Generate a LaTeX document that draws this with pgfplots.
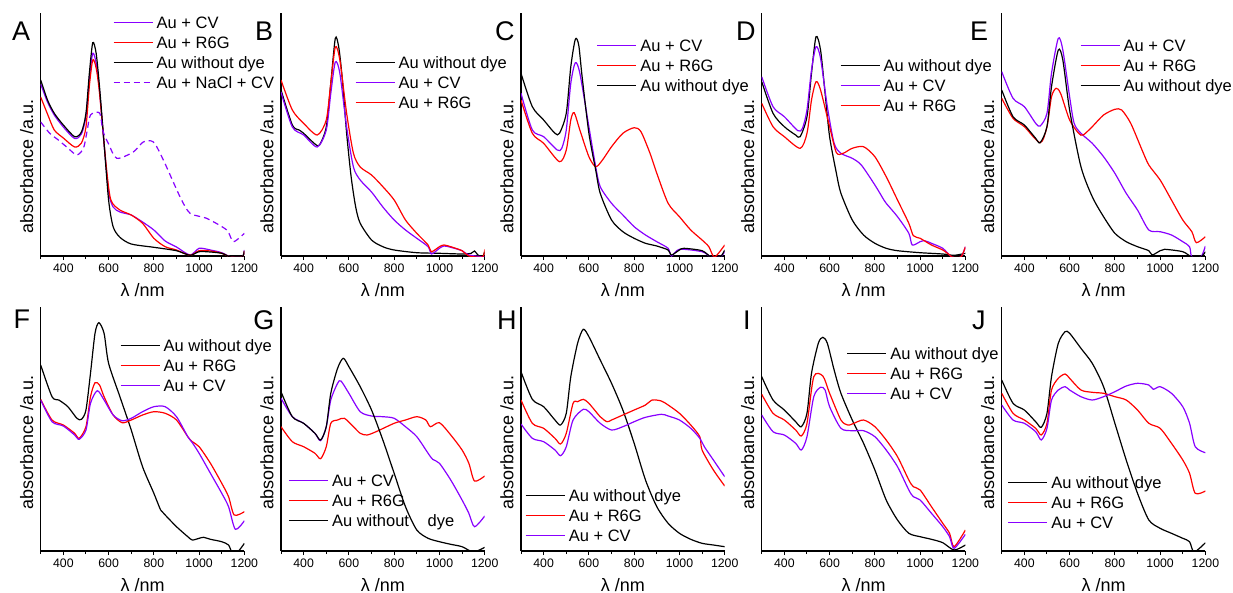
\documentclass[border=0pt]{standalone}
\usepackage{fontspec}
\setmainfont{Liberation Sans}
\usepackage{pgfplots}
\pgfplotsset{compat=1.18}
\definecolor{cvc}{RGB}{136,0,255}
\definecolor{rgc}{RGB}{255,0,0}
\pgfplotsset{
 cv/.style={color=cvc, line width=1.2bp, smooth, tension=0.45},
 rg/.style={color=rgc, line width=1.2bp, smooth, tension=0.45},
 nd/.style={color=black, line width=1.2bp, smooth, tension=0.45},
 panel/.style={
  scale only axis, width=203.7bp,
  xmin=300, xmax=1200, ymin=0,
  clip mode=individual,
  axis lines*=left,
  axis line style={line width=1.1bp, black},
  xtick={400,600,...,1200}, minor xtick={300,500,...,1100},
  ytick=\empty,
  tick align=outside, major tick length=4bp, minor tick length=3bp,
  tick style={black, line width=1bp},
  /pgf/number format/assume math mode=true,
  /pgf/number format/1000 sep={},
  xticklabel style={font=\fontsize{12.3bp}{14bp}\selectfont},
  xlabel={λ /nm},
  x label style={at={(axis description cs:0.5,0)}, anchor=base, yshift=-40bp, font=\fontsize{18bp}{20bp}\selectfont},
  ylabel={absorbance /a.u.},
  legend cell align=left,
  legend style={draw=none, fill=none, inner sep=0pt, outer sep=0pt, row sep=0pt, column sep=0pt, anchor=north west,
    font=\fontsize{16.5bp}{18bp}\selectfont, nodes={inner ysep=0pt, inner xsep=3.5bp, text height=16bp, text depth=4bp}},
  legend image code/.code={\draw[##1] (0bp,0bp) -- (39bp,0bp);},
 },
 toprow/.style={panel, height=243bp, ymax=243,
  y label style={at={(axis description cs:-0.069,0.370)}, anchor=center, font=\fontsize{18bp}{20bp}\selectfont}},
 botrow/.style={panel, height=244bp, ymax=244,
  y label style={at={(axis description cs:-0.069,0.445)}, anchor=center, font=\fontsize{18bp}{20bp}\selectfont}},
}
\newcommand{\plet}[3]{\node[font=\fontsize{27bp}{27bp}\selectfont, anchor=base west, inner sep=0pt] at (rel axis cs:#1,#2) {#3};}
\begin{document}
\begin{tikzpicture}[x=1bp,y=1bp]
\path[use as bounding box] (0,0) rectangle (1233,-593);

% ---------------- A
\begin{axis}[toprow, at={(40.7bp,-256bp)}, anchor=south west,
  legend style={at={(axis description cs:0.355,1.00206)}}]
\addplot[cv] coordinates {(300,172)(330,154)(360,141)(400,129)(450,117.5)(480,122)(500,140)(515,178)(530,202.7)(545,193)(560,165)(580,112)(600,64)(620,49)(650,44)(700,41)(750,34)(800,26)(850,15)(900,9)(960,1)(1000,7.7)(1050,6)(1100,3.3)(1140,-1)(1190,-1)(1200,6)};
\addlegendentry{Au + CV}
\addplot[rg] coordinates {(300,159)(330,142)(360,126)(400,118)(450,109)(480,113)(500,129)(515,170)(530,196)(545,188)(560,162.7)(590,89)(610,56)(650,46)(700,41)(750,32.7)(800,17.7)(850,9.3)(900,6)(960,0.7)(1000,5.3)(1050,5)(1100,2.7)(1140,-1)(1190,-1)(1200,5)};
\addlegendentry{Au + R6G}
\addplot[nd] coordinates {(300,176)(330,156)(360,142.7)(400,131)(450,119.3)(480,124)(500,142.7)(515,182.7)(530,213.3)(545,202.7)(560,169)(580,112.7)(600,56)(620,29.3)(650,18.7)(700,12)(800,8.7)(900,5.3)(960,0.7)(1000,4.3)(1050,4)(1100,2.7)(1140,-1)(1190,-1)(1200,5.3)};
\addlegendentry{Au without dye}
\addplot[cv, dash pattern=on 6bp off 4bp] coordinates {(300,134)(340,122.7)(378,116)(420,108)(459,101)(489,107.7)(505,125)(520,141)(560,143)(575,125)(600,112)(636,97.7)(709,104)(753,114)(798,114)(842,96)(916,59)(960,42.7)(1033,37.7)(1122,26)(1151,14.3)(1200,22.7)};
\addlegendentry{Au + NaCl + CV}
\plet{-0.141}{0.886}{A}
\end{axis}

% ---------------- B
\begin{axis}[toprow, at={(281bp,-256bp)}, anchor=south west,
  legend style={at={(axis description cs:0.363,0.83745)}}]
\addplot[nd] coordinates {(300,166)(350,131)(380,126)(400,122.7)(450,112)(470,111)(500,129)(520,172.7)(540,217.7)(555,209)(570,179)(590,122.7)(610,79)(630,49)(650,32.7)(700,16)(750,9.3)(800,6)(900,3.3)(1000,2.7)(1100,2)(1140,2.7)(1155,5)(1170,1)(1190,-1)(1200,4.3)};
\addlegendentry{Au without dye}
\addplot[cv] coordinates {(300,164)(350,129)(400,121)(460,109)(500,126)(520,162.7)(540,194)(560,182.7)(590,129)(620,89)(650,76)(700,64)(750,49)(800,36)(850,26)(900,17.7)(950,9.3)(965,2)(1000,7.7)(1020,10)(1050,8.7)(1100,5.3)(1130,1)(1200,-1)};
\addlegendentry{Au + CV}
\addplot[rg] coordinates {(300,176)(350,146)(400,132.7)(460,121)(500,136)(520,172.7)(540,209)(560,196)(590,142.7)(620,102.7)(650,89)(700,81)(750,69.3)(800,56)(850,36)(900,22.7)(950,11)(965,4.3)(1000,9.3)(1020,11)(1050,9.3)(1100,5.3)(1130,0)(1190,-1)(1200,6.7)};
\addlegendentry{Au + R6G}
\plet{-0.128}{0.886}{B}
\end{axis}

% ---------------- C
\begin{axis}[toprow, at={(521bp,-256bp)}, anchor=south west,
  legend style={at={(axis description cs:0.372,0.90741)}}]
\addplot[cv] coordinates {(300,162.7)(350,126)(400,119.3)(460,106)(480,107.7)(500,126)(520,172.7)(540,193.3)(560,182.7)(600,129.3)(630,89.3)(650,69.3)(700,52.7)(750,41)(800,29.3)(850,21)(900,14.3)(950,7.7)(965,0)(1000,6.7)(1100,4.3)(1140,-1)(1180,-1)(1200,4.3)};
\addlegendentry{Au + CV}
\addplot[rg] coordinates {(300,156)(350,122.7)(400,112.7)(470,94.3)(500,106)(520,136)(535,143.3)(560,126)(600,99.3)(630,89.3)(660,96)(700,109.3)(750,122.7)(800,128.3)(830,124.3)(870,102.7)(900,82.7)(950,52.7)(1000,39.3)(1050,26)(1100,16)(1130,9.3)(1155,-1)(1200,11)};
\addlegendentry{Au + R6G}
\addplot[nd] coordinates {(300,182.7)(350,149.3)(400,136)(450,122.7)(470,122.7)(500,142.7)(520,189.3)(540,216.7)(555,211)(570,179.3)(600,122.7)(630,86)(650,62.7)(700,36)(750,24.3)(800,17.7)(850,12.7)(900,10)(950,6)(965,1)(1000,6)(1020,7.7)(1100,5.3)(1140,-1)(1180,-1)(1200,6)};
\addlegendentry{Au without dye}
\plet{-0.128}{0.886}{C}
\end{axis}

% ---------------- D
\begin{axis}[toprow, at={(761.7bp,-256bp)}, anchor=south west,
  legend style={at={(axis description cs:0.384,0.82510)}}]
\addplot[nd] coordinates {(300,174.3)(350,142.7)(400,129.3)(450,121)(470,119.3)(500,139.3)(520,182.7)(540,219.3)(560,206)(580,162.7)(600,119.3)(630,82.7)(650,62.7)(700,36)(750,21)(800,12.7)(850,7.7)(900,5.3)(1000,3.3)(1100,2)(1150,0.7)(1200,2.7)};
\addlegendentry{Au without dye}
\addplot[cv] coordinates {(300,179.3)(350,149.3)(400,139.3)(460,125.3)(480,127.7)(500,146)(520,186)(540,209.3)(560,197.7)(590,149.3)(620,112.7)(650,102.7)(700,97.7)(740,91)(800,71)(840,56)(850,52.7)(900,39.3)(950,22.7)(965,11)(1000,14.3)(1020,15.3)(1050,12.7)(1100,7.7)(1140,-1)(1180,-1)(1200,9.3)};
\addlegendentry{Au + CV}
\addplot[rg] coordinates {(300,152.7)(350,129.3)(400,119.3)(470,107.7)(500,122.7)(520,156)(540,174.3)(560,166)(600,129.3)(630,103.3)(660,102.7)(700,107.7)(750,109.3)(800,99.3)(850,79.3)(900,56)(950,32.7)(970,20.3)(1000,17.7)(1050,11)(1100,6)(1130,1)(1140,-1)(1180,-1)(1200,9.3)};
\addlegendentry{Au + R6G}
\plet{-0.126}{0.886}{D}
\end{axis}

% ---------------- E
\begin{axis}[toprow, at={(1001.7bp,-256bp)}, anchor=south west,
  legend style={at={(axis description cs:0.384,0.90741)}}]
\addplot[cv] coordinates {(300,184.3)(350,157.7)(400,149.3)(450,132.7)(470,130)(500,142.7)(520,182.7)(550,217.7)(570,206)(600,159.3)(620,132.7)(650,122.7)(700,112.7)(750,99.3)(800,82.7)(850,62.7)(900,46)(950,26)(1000,24.3)(1050,21)(1100,14.3)(1130,9.3)(1140,-1)(1180,-1)(1200,10)};
\addlegendentry{Au + CV}
\addplot[rg] coordinates {(300,157.7)(350,137.7)(400,129.3)(470,113.3)(500,129.3)(520,159.3)(540,167.7)(560,162.7)(600,136)(640,122.7)(660,121)(700,129.3)(750,141)(800,146.7)(830,146)(870,132.7)(920,106)(950,91)(1000,76)(1050,56)(1100,36)(1140,24.3)(1160,13.3)(1200,19.3)};
\addlegendentry{Au + R6G}
\addplot[nd] coordinates {(300,166)(350,139.3)(400,131)(450,117.7)(470,113.3)(500,129.3)(520,169.3)(550,206)(570,196)(600,146)(650,89.3)(700,59.3)(750,39.3)(800,22.7)(850,14.3)(900,9.3)(950,5.3)(965,1)(1000,5.3)(1020,6.7)(1100,4.3)(1140,-1)(1180,-1)(1200,4.3)};
\addlegendentry{Au without dye}
\plet{-0.156}{0.886}{E}
\end{axis}

% ---------------- F
\begin{axis}[botrow, at={(40.7bp,-551bp)}, anchor=south west,
  legend style={at={(axis description cs:0.389,0.88320)}}]
\addplot[nd] coordinates {(300,186)(350,154.3)(380,151)(420,144.3)(460,132.7)(480,131.7)(500,141)(520,177.7)(540,217.7)(557,228.3)(580,217.7)(600,187.7)(650,154.3)(700,121)(750,84.3)(800,57.7)(830,41)(850,36)(900,24.3)(950,14.3)(970,11)(1000,12.7)(1020,13.7)(1050,11.7)(1100,9.3)(1130,6)(1145,-1)(1170,-1)(1200,7.7)};
\addlegendentry{Au without dye}
\addplot[rg] coordinates {(300,151.7)(350,131)(400,126)(450,117.7)(470,112.7)(500,124.3)(520,154.3)(540,168.3)(560,166)(580,154.3)(620,136)(660,128.3)(700,131)(750,136)(800,139.3)(850,137.7)(900,131)(950,114.3)(970,109.3)(1000,104.3)(1050,87.7)(1100,67.7)(1130,54.3)(1155,36)(1200,39.3)};
\addlegendentry{Au + R6G}
\addplot[cv] coordinates {(300,151)(350,129.3)(400,125)(450,116)(470,111.7)(500,121)(520,147.7)(550,160.3)(580,151)(620,136)(660,130.3)(700,132.7)(750,139.3)(800,144.3)(850,144.3)(900,134.3)(950,114.3)(970,108.3)(1000,97.7)(1050,77.7)(1100,57.7)(1130,44.3)(1160,21.7)(1200,30.3)};
\addlegendentry{Au + CV}
\plet{-0.134}{0.913}{F}
\end{axis}

% ---------------- G
\begin{axis}[botrow, at={(281bp,-551bp)}, anchor=south west,
  legend style={at={(axis description cs:0.036,0.32992)}}]
\addplot[cv] coordinates {(300,152.7)(350,134.3)(400,127.7)(450,117.7)(475,110.3)(500,124.3)(520,151)(550,167.7)(565,170)(600,157.7)(650,139.3)(700,135)(750,134.3)(800,132.7)(850,124.3)(900,114.3)(950,97.7)(970,91.7)(1000,87.7)(1050,71)(1100,51)(1130,37.7)(1155,24.3)(1200,35)};
\addlegendentry{Au + CV}
\addplot[rg] coordinates {(300,124.3)(350,109.3)(400,104.3)(450,97.7)(475,92.3)(500,104.3)(520,127.7)(550,131)(580,132.7)(620,124.3)(650,117.7)(680,116)(720,119.3)(800,127.7)(850,131)(900,134.3)(940,131)(960,124.3)(1000,128.3)(1050,116)(1100,101)(1130,87.7)(1155,70)(1200,75)};
\addlegendentry{Au + R6G}
\addplot[nd] coordinates {(300,159.3)(350,134.3)(400,127.7)(450,117.7)(475,111)(500,124.3)(520,157.7)(550,182.7)(575,192.7)(600,184.3)(650,164.3)(700,141)(750,111)(800,77.7)(850,44.3)(900,21)(950,12.7)(1000,9.3)(1050,6.7)(1100,4.3)(1150,-1)(1200,3.7)};
\addlegendentry{Au without\hspace{14bp} dye}
\plet{-0.137}{0.906}{G}
\end{axis}

% ---------------- H
\begin{axis}[botrow, at={(521bp,-551bp)}, anchor=south west,
  legend style={at={(axis description cs:0.02,0.26844)}}]
\addplot[nd] coordinates {(300,179.3)(350,151.7)(400,144.3)(450,131)(475,126)(500,137.7)(520,174.3)(550,207.7)(575,221.7)(600,214.3)(650,191)(700,167.7)(750,141)(800,107.7)(850,71)(900,44.3)(950,27.7)(1000,17.7)(1050,11.7)(1100,7.7)(1150,6)(1200,4.3)};
\addlegendentry{Au without\hspace{4bp} dye}
\addplot[rg] coordinates {(300,151)(350,127.7)(400,122.7)(450,112.7)(475,107)(500,117.7)(530,147.7)(550,149.3)(575,151.7)(600,147.7)(650,134.3)(680,129.3)(700,131)(750,136)(800,141)(850,146)(880,151)(920,150)(950,146)(1000,137.7)(1050,126)(1090,114.3)(1100,101)(1150,81)(1200,65)};
\addlegendentry{Au + R6G}
\addplot[cv] coordinates {(300,127)(350,112.7)(400,109.3)(450,101)(475,95.3)(500,104.3)(530,131)(575,141.7)(600,139.3)(650,127.7)(700,121)(750,124.3)(800,129.3)(850,133.7)(920,136.7)(950,135)(1000,131)(1050,122.7)(1090,112.7)(1110,104.3)(1150,91)(1200,74.3)};
\addlegendentry{Au + CV}
\plet{-0.118}{0.906}{H}
\end{axis}

% ---------------- I
\begin{axis}[botrow, at={(761.7bp,-551bp)}, anchor=south west,
  legend style={at={(axis description cs:0.417,0.85041)}}]
\addplot[nd] coordinates {(300,174.3)(350,151)(400,141)(450,129.3)(475,124.3)(500,137.7)(520,177.7)(550,207.7)(570,213.7)(590,207.7)(620,181)(650,157.7)(700,131)(750,107.7)(800,81)(850,51)(900,31)(950,17.7)(1000,14.3)(1050,11.7)(1100,8.3)(1150,1)(1200,6)};
\addlegendentry{Au without dye}
\addplot[rg] coordinates {(300,156.7)(350,137.7)(400,131)(450,121)(475,115)(500,127.7)(530,174.3)(570,175)(600,157.7)(650,131)(680,126)(700,127)(750,131)(800,124.3)(850,111)(900,94.3)(950,71)(970,64.3)(1000,61)(1050,44.3)(1100,27.7)(1130,17.7)(1150,4.3)(1200,21)};
\addlegendentry{Au + R6G}
\addplot[cv] coordinates {(300,136)(350,119.3)(400,116)(450,107.7)(475,101)(500,114.3)(530,154.3)(560,163.7)(580,161)(600,144.3)(650,122.7)(700,120.3)(750,120.3)(800,114.3)(850,101)(900,84.3)(950,61)(970,54.3)(1000,51)(1050,37.7)(1100,24.3)(1130,14.3)(1150,2.7)(1200,16.7)};
\addlegendentry{Au + CV}
\plet{-0.092}{0.906}{I}
\end{axis}

% ---------------- J
\begin{axis}[botrow, at={(1001.7bp,-551bp)}, anchor=south west,
  legend style={at={(axis description cs:0.029,0.32172)}}]
\addplot[nd] coordinates {(300,171)(350,147.7)(400,141)(450,129.3)(475,123.7)(500,137.7)(520,174.3)(550,207.7)(580,219.3)(600,217.7)(650,202.7)(700,187.7)(750,164.3)(800,127.7)(850,91)(900,57.7)(950,31)(1000,22.7)(1050,17.7)(1100,12.7)(1130,9.3)(1150,-1)(1200,8.3)};
\addlegendentry{Au without\hspace{2bp} dye}
\addplot[rg] coordinates {(300,157.7)(350,137.7)(400,131)(450,122.7)(475,116)(500,127.7)(520,161)(550,172.7)(580,177)(600,172.7)(650,161)(700,158.7)(750,157.7)(800,154.3)(850,151)(900,141)(950,127.7)(1000,122.7)(1050,107.7)(1100,91)(1130,77.7)(1155,57.7)(1200,60)};
\addlegendentry{Au + R6G}
\addplot[cv] coordinates {(300,146)(350,131)(400,127.7)(450,119.3)(475,111)(500,122.7)(520,151)(550,161)(580,164.3)(600,161)(650,154.3)(700,151)(750,154.3)(800,159.3)(850,165)(900,167.7)(950,166)(970,161.7)(1000,164.3)(1050,157.7)(1100,144.3)(1130,127.7)(1155,104.3)(1200,98.3)};
\addlegendentry{Au + CV}
\plet{-0.146}{0.906}{J}
\end{axis}
\end{tikzpicture}
\end{document}
